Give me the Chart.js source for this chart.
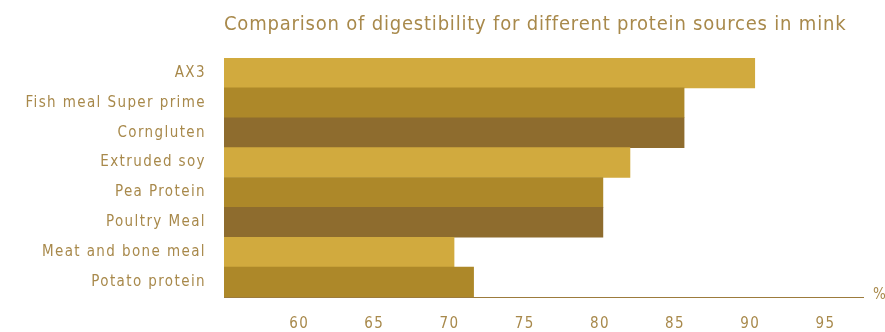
<!DOCTYPE html>
<html>
<head>
<meta charset="utf-8">
<script src="https://cdn.jsdelivr.net/npm/chart.js@4"></script>
<style>
  html, body { margin: 0; padding: 0; background: #ffffff; }
  #wrap { width: 885px; height: 332px; position: relative; }
</style>
</head>
<body>
<div id="wrap"><canvas id="chart"></canvas></div>
<script>
	'use strict';

	// Protein sources and their digestibility (%)
	const sources = [
		'AX3',
		'Fish meal Super prime',
		'Corngluten',
		'Extruded soy',
		'Pea Protein',
		'Poultry Meal',
		'Meat and bone meal',
		'Potato protein'
	];
	const digestibility = [90.3, 85.6, 85.6, 82.0, 80.2, 80.2, 70.3, 71.6];
	const tickValues = [60, 65, 70, 75, 80, 85, 90, 95];

	const palette = ['#d1aa3e', '#ad8829', '#8e6c2e'];
	const textColor = '#a8894b';
	const fontFamily = '"DejaVu Sans Condensed", "DejaVu Sans", sans-serif';
	const titleText = 'Comparison of digestibility for different protein sources in mink';

	// Wider letter spacing for all canvas text
	const spacing = {
		id: 'spacing',
		beforeUpdate: function(chart) { chart.ctx.letterSpacing = '1.4px'; },
		beforeDraw: function(chart) { chart.ctx.letterSpacing = '1.4px'; }
	};

	// Title above the plot and the unit sign at the end of the axis
	const decorations = {
		id: 'decorations',
		afterDraw: function(chart) {
			const ctx = chart.ctx;
			const area = chart.chartArea;
			ctx.save();
			ctx.letterSpacing = '0.8px';
			ctx.fillStyle = textColor;
			ctx.font = '20px ' + fontFamily;
			ctx.textAlign = 'left';
			ctx.textBaseline = 'middle';
			ctx.fillText(titleText, area.left, 25);
			ctx.font = '15px ' + fontFamily;
			ctx.fillText('%', area.right + 10, area.bottom - 2);
			ctx.restore();
		}
	};

	new Chart(document.getElementById('chart'), {
		type: 'bar',
		data: {
			labels: sources,
			datasets: [{
				data: digestibility,
				backgroundColor: sources.map(function(s, i) { return palette[i % 3]; }),
				borderWidth: 0,
				barPercentage: 1,
				categoryPercentage: 1
			}]
		},
		options: {
			indexAxis: 'y',
			responsive: true,
			maintainAspectRatio: false,
			animation: false,
			layout: { padding: { top: 58, right: 22, left: 0, bottom: 0 } },
			plugins: {
				legend: { display: false },
				tooltip: { enabled: false }
			},
			scales: {
				x: {
					min: 55,
					max: 97.5,
					afterBuildTicks: function(scale) {
						scale.ticks = tickValues.map(function(v) { return { value: v }; });
					},
					afterFit: function(scale) { scale.height = 35; },
					grid: { display: false, drawTicks: false },
					border: { display: true, color: '#9c7b3c', width: 1 },
					ticks: {
						color: textColor,
						padding: 18,
						maxRotation: 0,
						font: { family: fontFamily, size: 15 }
					}
				},
				y: {
					afterFit: function(scale) { scale.width = 224; },
					grid: { display: false, drawTicks: false },
					border: { display: false },
					ticks: {
						color: textColor,
						padding: 18,
						font: { family: fontFamily, size: 15 }
					}
				}
			}
		},
		plugins: [spacing, decorations]
	});
</script>
</body>
</html>
